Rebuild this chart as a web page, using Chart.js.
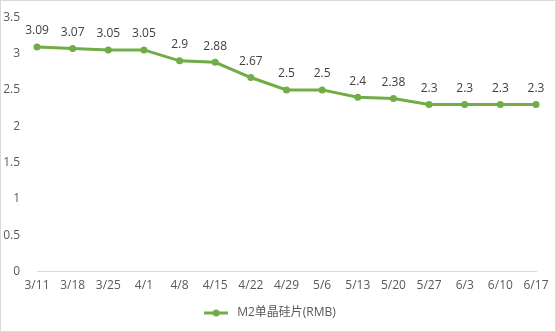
<!DOCTYPE html>
<html>
<head>
<meta charset="utf-8">
<script src="https://cdn.jsdelivr.net/npm/chart.js@4/dist/chart.umd.min.js"></script>
<style>
html,body{margin:0;padding:0;background:#fff}
#box{position:relative;width:554px;height:330px;border:1px solid #d9d9d9}
</style>
</head>
<body>
<div id="box"><canvas id="grafico" width="554" height="330"></canvas></div>
<script>
const categorias=['3/11','3/18','3/25','4/1','4/8','4/15','4/22','4/29','5/6','5/13','5/20','5/27','6/3','6/10','6/17']
const precosM2=[3.09,3.07,3.05,3.05,2.9,2.88,2.67,2.5,2.5,2.4,2.38,2.3,2.3,2.3,2.3]
const nomeSerie='M2单晶硅片(RMB)'

const fonte='"Open Sans","Noto Sans CJK SC",sans-serif'
const verde='#70AD47'

// marcador da legenda: linha com ponto
let marca=document.createElement('canvas')
marca.width=24
marca.height=10
let m=marca.getContext('2d')
m.strokeStyle=verde
m.lineWidth=3
m.beginPath()
m.moveTo(0,5)
m.lineTo(24,5)
m.stroke()
m.fillStyle=verde
m.beginPath()
m.arc(12,5,3.5,0,Math.PI*2)
m.fill()

const rotulos={
id:'rotulos',
afterDatasetsDraw(chart){
let ctx=chart.ctx
let meta=chart.getDatasetMeta(0)
ctx.save()
ctx.font='12px '+fonte
ctx.fillStyle='#404040'
ctx.textAlign='center'
ctx.textBaseline='middle'
meta.data.forEach((p,i)=>{
ctx.fillText(String(precosM2[i]),p.x,p.y-16)
})
ctx.restore()
}
}

new Chart(document.getElementById('grafico'),{
type:'line',
data:{
labels:categorias,
datasets:[{
label:nomeSerie,
data:precosM2,
borderColor:verde,
backgroundColor:verde,
borderWidth:3,
pointRadius:3.5,
pointBackgroundColor:verde,
pointBorderWidth:0,
tension:0
}]
},
options:{
responsive:false,
animation:false,
layout:{padding:{top:14,right:19,left:0,bottom:2}},
scales:{
x:{
offset:false,
grid:{display:false,drawOnChartArea:false,drawTicks:true,tickLength:5,color:'#d9d9d9'},
border:{color:'#d9d9d9'},
ticks:{color:'#595959',font:{family:fonte,size:12},padding:2,maxRotation:0,autoSkip:false}
},
y:{
min:0,
max:3.5,
afterFit(s){s.width=36},
grid:{display:false},
border:{display:false},
ticks:{stepSize:0.5,color:'#595959',font:{family:fonte,size:12},padding:9,callback:v=>String(v)}
}
},
plugins:{
legend:{
position:'bottom',
labels:{
usePointStyle:true,
pointStyleWidth:30,
color:'#595959',
font:{family:fonte,size:12},
padding:12,
generateLabels(chart){
return [{text:nomeSerie,pointStyle:marca,fillStyle:verde,strokeStyle:verde,lineWidth:0,fontColor:'#595959',datasetIndex:0}]
}
}
},
tooltip:{enabled:false}
}
},
plugins:[rotulos]
})
</script>
</body>
</html>
